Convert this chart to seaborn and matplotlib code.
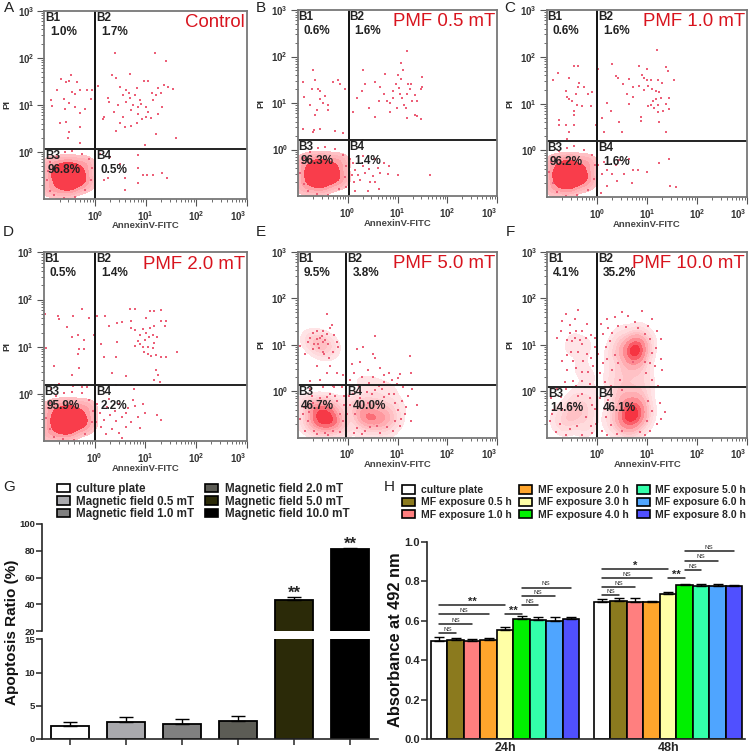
import numpy as np
import pandas as pd
import seaborn as sns
import matplotlib.pyplot as plt
from matplotlib.patches import Patch

sns.set_style("ticks")
plt.rcParams['font.family'] = ['Liberation Sans', 'DejaVu Sans']
plt.rcParams['mathtext.fontset'] = 'custom'
plt.rcParams['mathtext.bf'] = 'Liberation Sans:bold'
plt.rcParams['mathtext.rm'] = 'Liberation Sans'

W, H = 750, 755

# flow cytometry events, log10(AnnexinV), log10(PI)
a_events = [(-.87,1.1),(-.85,.97),(-.74,1.32),(-.68,1.54),(-.57,1.49),(-.51,1.5),(-.48,1.63),(-.36,1.49),(-.46,1.27),(-.39,1.24),(-.29,1.31),(-.15,1.32),(-.05,1.32),(-.07,1.13),(-.62,1.13),(-.52,1.03),(-.59,.92),(-.69,.61),(-.57,.64),(-.39,.96),(-.29,.82),(-.2,.92),(-.52,.43),(-.54,.29),(-.29,.18),(-.29,.54),
    (.39,2.1),(1.18,2.11),(1.4,1.93),(.33,1.63),(.41,1.58),(.69,1.65),(.96,1.5),(1.05,1.5),(1.24,1.35),(1.37,1.42),(1.54,1.33),(1.44,1.38),(.05,1.39),(.49,1.37),(.62,1.31),(.82,1.35),(.78,1.2),(.88,1.1),(.7,1.15),(.62,1.05),(.75,1.0),(.85,.95),(.9,1.02),(1.05,.85),(1.12,1.25),(1.15,1.1),(1.2,1.2),(1.3,1.25),(1.1,.72),(1.0,.75),(.55,.75),(.5,.62),(.6,.53),(.72,.55),(.82,.62),(.93,.7),(1.0,.95),(1.25,.8),(1.32,.95),(.25,1.15),(.27,1.05),(.15,.7),(.18,.75),(.38,.85),(.42,.45),(.55,1.2),(.68,1.25),(.72,.9),(.85,.8),(1.2,.38),(.98,.15),(1.6,.3),(.45,1.0),
    (.1,-.05),(.5,-.25),(.85,-.07),(.25,-.55),(.18,-.6),(.6,-.55),(.85,-.65),(.95,-.5),(1.03,-.48),(1.15,-.5),(1.32,-.45),(1.42,-.55),(.85,-.35),(.3,-.1),(.6,-.8),
    (-.95,-.6),(-.92,-.4),(-.88,-.82),(-.8,-.92),(-.62,-.97),(-.4,-.95),(-.2,-.8),(-.08,-.6),(-.05,-.35),(-.12,-.15),(-.25,-.05),(-.45,.02),(-.6,.0),(-.75,-.1),(-.88,-.22)]
a_core = [(-.53,-.52,6),(-.72,-.5,2),(-.34,-.52,2),(-.53,-.72,2),(-.53,-.32,2),(-.25,-.65,1),(-.8,-.3,1),(-.8,-.75,1),(-.25,-.3,1)]

b_events = [(-.9,1.45),(-.7,1.7),(-.65,1.5),(-.72,1.3),(-.6,1.3),(-.55,1.25),(-.45,1.15),(-.3,1.45),(-.2,1.5),(-.15,1.4),(-.5,1.0),(-.55,1.08),(-.88,1.12),(-.75,.95),(-.62,.85),(-.65,.75),(-.4,.85),(-.4,.95),(-.9,.45),(-.68,.42),(-.7,.38),(-.55,.45),(-.25,.4),(-.1,.35),(-.05,1.3),
    (.3,1.7),(.35,1.4),(.28,1.25),(.18,1.1),(.1,.8),(.55,1.45),(.65,1.35),(.72,1.2),(.78,1.05),(.85,1.0),(.9,1.25),(.97,1.4),(1.03,1.32),(1.05,1.2),(1.1,1.1),(1.13,.95),(1.17,.9),(1.2,1.2),(1.22,1.4),(1.25,1.3),(1.28,1.4),(1.35,1.18),(1.4,1.05),(1.47,1.3),(1.5,1.55),(1.5,1.35),(.75,1.62),(1.0,1.6),(1.12,1.7),(1.08,1.85),(1.2,2.12),(1.2,.68),(1.4,.72),(1.35,.75),(1.48,.65),(.85,.8),(.55,.7),(.42,.9),(.62,1.05),(.9,1.1),(.98,.9),(1.08,1.52),(1.3,1.05),(.3,.2),
    (.05,-.2),(.1,-.3),(.15,-.45),(.2,-.55),(.3,-.35),(.35,-.5),(.42,-.42),(.5,-.58),(.55,-.7),(.6,-.4),(.65,-.5),(.45,-.7),(.25,-.65),(.12,-.7),(.72,-.3),(.82,-.35),(.8,-.52),(.62,-.85),(.4,-.9),(.15,-.9),(1.0,-.55),(1.65,-.55),(.55,-.2),(.3,-.15),(.08,-.55),(.02,-.8),
    (-.95,-.5),(-.92,-.3),(-.88,-.75),(-.8,-.9),(-.62,-.95),(-.4,-.97),(-.18,-.85),(-.05,-.6),(-.03,-.35),(-.1,-.12),(-.25,.02),(-.45,.05),(-.6,.03),(-.75,-.05),(-.88,-.18),(-.03,-.8)]
b_core = [(-.53,-.52,6),(-.72,-.52,2),(-.32,-.52,2),(-.53,-.72,2),(-.53,-.3,2),(-.22,-.65,1),(-.8,-.3,1),(-.8,-.75,1),(-.22,-.3,1)]

c_events = [(-.78,1.65),(-.88,1.5),(-.55,1.55),(-.45,1.8),(-.38,1.8),(-.62,1.28),(-.6,1.15),(-.55,1.1),(-.42,1.2),(-.38,1.35),(-.35,1.45),(-.25,1.35),(-.18,1.2),(-.1,1.25),(-.5,1.05),(-.4,.98),(-.3,.95),(-.12,.95),(-.75,.65),(-.75,.55),(-.62,.55),(-.55,.4),(-.45,.55),(-.45,.75),(-.45,.85),(-.02,.55),(-.6,.25),
    (.02,1.75),(.3,1.85),(.38,1.6),(.52,1.42),(.42,1.55),(.6,1.2),(.72,1.35),(.65,1.52),(.85,1.8),(.9,1.62),(.95,1.55),(1.0,1.5),(1.08,1.5),(1.22,1.5),(1.3,1.45),(1.38,1.78),(1.42,1.7),(1.55,1.5),(1.0,1.75),(.85,1.38),(.95,1.3),(1.02,1.38),(1.1,1.32),(1.18,1.28),(1.25,1.25),(1.28,1.12),(1.18,1.1),(1.12,1.05),(1.08,.98),(1.02,.95),(1.15,.9),(1.22,.98),(1.32,.85),(1.38,1.0),(1.45,1.12),(1.45,.88),(1.22,.82),(1.2,2.15),(.72,1.15),(.88,.72),(.45,.6),(.28,.85),(.2,1.02),(.1,.7),(.15,.4),(.5,.4),(.88,.62),(1.38,.4),(1.25,.6),(.65,1.0),
    (.02,-.3),(.15,-.25),(.2,-.42),(.3,-.5),(.38,-.3),(.45,-.2),(.55,-.5),(.65,-.18),(.72,-.42),(.82,-.42),(1.0,-.45),(1.25,-.27),(1.45,-.18),(1.47,-.75),(1.58,-.78),(.7,-.7),(.4,-.65),(.2,-.75),(.08,-.9),(.1,-.5),
    (-.95,-.45),(-.92,-.25),(-.88,-.7),(-.8,-.88),(-.62,-.97),(-.4,-.95),(-.18,-.85),(-.05,-.6),(-.03,-.3),(-.1,-.1),(-.25,.02),(-.45,.1),(-.6,.05),(-.75,-.02),(-.88,-.15)]
c_core = [(-.55,-.52,6),(-.75,-.52,2),(-.35,-.52,2),(-.55,-.72,2),(-.55,-.3,2),(-.25,-.65,1),(-.8,-.3,1),(-.8,-.75,1),(-.25,-.3,1)]

d_events = [(-.98,1.7),(-.72,1.65),(-.7,1.58),(-.55,1.42),(-.42,1.65),(-.25,1.8),(-.1,1.6),(-.95,.98),(-.45,1.2),(-.32,1.25),(-.2,1.15),(-.3,.95),(-.33,.85),(-.2,.95),(-.8,.6),(-.7,.22),(-.45,.4),(-.42,.18),(-.3,.55),(-.25,.15),(-.15,.15),(-.02,1.25),(-.85,.1),
    (.05,1.65),(.2,1.65),(.28,1.45),(.45,1.5),(.55,1.52),(.7,1.8),(.8,1.8),(.72,1.55),(.72,1.4),(.8,1.35),(.9,1.25),(.95,1.38),(1.02,1.6),(1.1,1.75),(1.18,1.75),(1.3,1.78),(1.3,1.55),(1.4,1.55),(1.38,1.45),(1.18,1.45),(1.1,1.4),(1.02,1.3),(1.0,1.15),(1.08,1.2),(1.15,1.25),(1.22,1.2),(.85,1.12),(.8,1.02),(.9,1.05),(.95,1.0),(1.05,1.0),(1.15,.98),(1.18,1.08),(.98,.9),(1.05,.85),(1.12,.8),(1.2,.82),(1.3,.78),(1.4,.78),(1.62,.9),(.42,.78),(.18,.78),(.35,.45),(.42,.2),(.62,.38),(.72,.2),(.78,.1),(1.2,.5),(1.25,.4),(1.28,.25),(1.18,.3),(.45,1.1),(.12,1.05),
    (.05,-.2),(.1,-.4),(.18,-.55),(.25,-.28),(.3,-.45),(.4,-.35),(.42,-.58),(.48,-.22),(.55,-.48),(.62,-.4),(.65,-.3),(.72,-.6),(.8,-.25),(.85,-.48),(.9,-.72),(1.0,-.4),(1.22,-.45),(1.3,-.55),(.35,-.75),(.22,-.85),(.48,-.82),(.55,-.92),(.12,-.7),(.02,-.6),(.28,-.1),(.75,-.12),(.62,-.7),(.95,-.2),
    (-.95,-.5),(-.92,-.3),(-.88,-.75),(-.8,-.9),(-.62,-.95),(-.4,-.97),(-.18,-.85),(-.05,-.6),(-.03,-.35),(-.1,-.12),(-.25,.02),(-.45,.05),(-.6,.03),(-.75,-.05),(-.88,-.18)]
d_core = [(-.53,-.55,6),(-.72,-.55,2),(-.32,-.55,2),(-.53,-.75,2),(-.53,-.33,2),(-.22,-.65,1),(-.8,-.33,1),(-.8,-.78,1),(-.22,-.33,1)]

e_events = [(-.95,.98),(-.8,1.05),(-.75,1.15),(-.7,1.25),(-.62,1.3),(-.55,1.15),(-.5,1.05),(-.45,1.1),(-.42,1.22),(-.35,1.35),(-.32,1.42),(-.28,1.2),(-.22,1.05),(-.2,.95),(-.3,.85),(-.38,.72),(-.5,.85),(-.58,.92),(-.48,.8),(-.42,1.65),(-.7,.9),(-.85,.8),(-.62,.55),(-.35,.55),(-.42,.4),(-.22,.4),(-.1,.35),(-.55,.25),(-.75,.22),(-.3,.12),(-.62,1.12),(-.52,1.18),(-.4,1.02),(-.6,1.02),(-.68,1.02),(-.5,1.3),
    (.55,1.18),(.3,.95),(.18,.9),(.25,.62),(.5,.8),(.55,.72),(.4,.45),(.5,.3),(.65,.5),(.72,.35),(.82,.4),(.88,.25),(1.0,.28),(1.05,.38),(.98,.15),(.62,.12),(.42,.18),(.28,.3),(.12,.4),(.05,.25),(.22,.12),(.72,.2),(1.25,.75),(1.12,.1),(1.28,.4),(.08,.58),
    (.05,-.3),(.15,-.5),(.25,-.15),(.4,-.25),(.48,-.05),(.6,-.28),(.72,-.12),(.82,-.05),(.95,-.25),(1.02,-.4),(1.1,-.2),(1.15,-.5),(1.22,-.1),(1.28,-.65),(1.05,-.75),(.9,-.85),(.65,-.9),(.35,-.85),(.12,-.9),(1.4,-.3),(1.3,.05),(.55,.02),(.25,.0),
    (-.95,-.6),(-.88,-.35),(-.85,-.85),(-.72,-.1),(-.62,-.92),(-.5,.08),(-.35,-.05),(-.22,-.2),(-.08,-.1),(-.02,-.5),(-.4,-.95),(-.15,-.88),(-.75,.05),(-.28,.1),(-.12,.08),
    (-.9,-.5),(-.8,-.65),(-.78,-.45),(-.7,-.25),(-.68,-.85),(-.55,-.15),(-.45,-.9),(-.42,-.12),(-.3,-.85),(-.25,-.1),(-.1,-.65),(-.08,-.3),(-.15,-.5),(.02,-.1),(.1,-.05),(.18,-.8),(.28,-.92),(.45,-.78),(.58,-.75),(.78,-.78),(.95,-.65),(1.08,-.6),(1.18,-.35),(.92,-.05),(.68,.05),(.38,-.02)]
e_core = [(-.52,-.58,5),(-.35,-.6,4),(-.6,-.4,3),(-.38,-.35,3),(-.72,-.7,2),(-.2,-.72,2),(-.5,-.8,2),(-.12,-.4,1),(-.75,-.3,1),
    (.35,-.55,4),(.55,-.6,3),(.78,-.55,3),(.25,-.3,2),(.55,-.3,2),(.9,-.3,1),(.3,-.78,1),(.7,-.8,1),(-.58,1.02,2),(-.42,1.0,1),(-.68,1.1,.7),(-.45,.85,.5),
    (.55,.1,.6),(.3,.2,.4),(.85,.05,.4)]

f_events = [(-.7,1.5),(-.62,1.65),(-.55,1.42),(-.45,1.55),(-.38,1.75),(-.3,1.3),(-.2,1.45),(-.72,1.3),(-.8,1.15),(-.6,1.1),(-.45,1.15),(-.35,1.1),(-.12,1.2),(-.05,.95),(-.52,.85),(-.38,.85),(-.7,.65),(-.6,.45),(-.42,.5),(-.28,.65),(-.18,.42),(-.08,.55),(-.65,.2),(-.48,.22),(-.3,.22),(-.15,.15),
    (.08,1.45),(.2,1.55),(.35,1.6),(.5,1.7),(.62,1.62),(.75,1.48),(.9,1.72),(1.02,1.4),(1.1,1.55),(1.2,1.3),(1.28,1.12),(.12,1.22),(.3,1.25),(.18,.95),(.35,.78),(.12,.6),(.3,.45),(.15,.2),(.45,.25),(1.18,.92),(1.28,.7),(1.15,.55),(1.3,.45),(1.1,.25),(1.22,.12),(1.05,.1),
    (1.25,-.25),(1.35,-.45),(1.2,-.7),(1.05,-.85),(1.28,-.6),(.95,-.95),(.05,-.15),(.1,-.85),(.2,-.95),(.4,-.92),
    (-.95,-.65),(-.88,-.4),(-.82,-.88),(-.72,-.12),(-.62,-.95),(-.5,.08),(-.3,-.05),(-.15,-.15),(-.05,-.38),(-.03,-.7),(-.3,-.95),(-.1,-.9),(-.8,.05),(-.92,-.15),
    (-.9,-.5),(-.75,-.7),(-.7,-.4),(-.55,-.82),(-.55,-.25),(-.4,-.75),(-.38,-.1),(-.22,-.55),(-.12,-.75),(-.1,-.3),(-.62,.05),(-.42,.12),(-.25,.08),(-.05,.1),(-.55,1.25),(-.5,1.08),(-.42,1.3),(-.3,1.02),(-.22,1.15),(-.2,.8),(-.6,.78),(-.48,.65),(-.3,.42),(-.12,.72),(-.05,1.15),(.02,.8),(.05,.4),
    (.22,1.35),(.42,1.4),(.58,1.38),(.82,1.35),(.95,1.22),(1.05,1.12),(1.1,.82),(1.05,.6),(.98,.4),(.2,.7),(.25,1.08),(.42,.6),(.5,.02),(.28,.12),(.95,.62),(.72,.62),(.22,-.18),(.18,-.55),(.28,-.72),(.15,-.38),(1.02,-.2),(1.1,-.42),(1.0,-.65),(.5,-.85),(.85,-.88)]
f_core = [(.72,-.5,6),(.55,-.6,4),(.9,-.55,3),(.6,-.3,3),(.85,-.25,2),(.45,-.15,1.5),(.7,-.8,1.5),(.35,-.55,1.5),(.75,.0,1),(.4,.05,.8),
    (.72,.88,6),(.85,.82,4),(.55,.9,2),(.78,1.1,1.5),(.45,1.1,1),(.35,.8,1),(.6,.5,1.4),(.85,.45,1.4),(.35,.35,1),(.6,.2,1),(.95,.15,.8),(.95,.95,1),
    (-.48,-.5,1.5),(-.62,-.62,1.2),(-.3,-.45,1.2),(-.2,-.7,1),(-.45,-.2,.8),(-.78,-.55,.6),(-.15,-.2,.6),(-.5,1.02,.6),(-.25,.95,.5),(-.35,.5,.4),(-.15,.3,.4)]

panel_letters = ['A', 'B', 'C', 'D', 'E', 'F']
panel_titles = ['Control', 'PMF 0.5 mT', 'PMF 1.0 mT', 'PMF 2.0 mT', 'PMF 5.0 mT', 'PMF 10.0 mT']
panel_events = [a_events, b_events, c_events, d_events, e_events, f_events]
panel_core = [a_core, b_core, c_core, d_core, e_core, f_core]
panel_pct = [['1.0%', '1.7%', '96.8%', '0.5%'], ['0.6%', '1.6%', '96.3%', '1.4%'],
             ['0.6%', '1.6%', '96.2%', '1.6%'], ['0.5%', '1.4%', '95.9%', '2.2%'],
             ['9.5%', '3.8%', '46.7%', '40.0%'], ['4.1%', '35.2%', '14.6%', '46.1%']]
gate_x = [1.0, 1.05, 1.0, 1.02, 0.95, 1.0]
gate_y = [1.18, 1.58, 1.58, 1.55, 1.36, 1.21]

# bar chart G
g_groups = ['culture plate', 'Magnetic field 0.5 mT', 'Magnetic field 1.0 mT',
            'Magnetic field 2.0 mT', 'Magnetic field 5.0 mT', 'Magnetic field 10.0 mT']
g_ratio = [2.0, 2.6, 2.3, 2.7, 43.0, 81.0]
g_err = [0.5, 0.7, 0.7, 0.8, 2.5, 1.0]
g_colors = ['#ffffff', '#a9a9ad', '#808080', '#5c5c55', '#2b2a08', '#000000']

# bar chart H
h_times = ['24h', '48h']
h_groups = ['culture plate', 'MF exposure 0.5 h', 'MF exposure 1.0 h', 'MF exposure 2.0 h',
            'MF exposure 3.0 h', 'MF exposure 4.0 h', 'MF exposure 5.0 h', 'MF exposure 6.0 h',
            'MF exposure 8.0 h']
h_24 = [.50, .505, .50, .505, .555, .61, .605, .60, .61]
h_48 = [.695, .70, .695, .695, .735, .78, .775, .775, .777]
h_24_err = [.018, .01, .01, .01, .012, .013, .014, .018, .01]
h_48_err = [.014, .014, .02, .005, .012, .008, .01, .014, .005]
h_colors = ['#ffffff', '#8b7a1e', '#ff7f7f', '#ffa52c', '#ffffa6', '#00f000', '#33ffaa', '#4fa5ff', '#5050ff']
# group, first bar, last bar, height, label
h_brackets = [(0,0,1,.54,'NS'),(0,0,2,.582,'NS'),(0,0,3,.632,'NS'),(0,0,4,.68,'**'),(0,4,5,.634,'**'),
              (0,5,6,.678,'NS'),(0,5,7,.725,'NS'),(0,5,8,.769,'NS'),
              (1,0,1,.732,'NS'),(1,0,2,.772,'NS'),(1,0,3,.818,'NS'),(1,0,4,.862,'*'),(1,4,5,.815,'**'),
              (1,5,6,.857,'NS'),(1,5,7,.906,'NS'),(1,5,8,.954,'NS')]

fig = plt.figure(figsize=(7.5, 7.55), dpi=100)


def px_axes(l, t, r, b):
    return fig.add_axes([l / W, 1 - b / H, (r - l) / W, (b - t) / H])


def px_text(x, y, s, **kw):
    kw.setdefault('va', 'center')
    return fig.text(x / W, 1 - y / H, s, **kw)


# left, top, right, bottom of each dot plot in pixels
boxes = [(44.3, 10.7, 247, 199), (297.7, 10, 497.3, 196), (546.7, 10, 747, 197.3),
         (43.7, 252.3, 247, 441.3), (297.7, 251.7, 497.3, 437.7), (547.3, 251.7, 747, 437.7)]
blob_reds = sns.blend_palette(['#ffc4c8', '#ff7078', '#f83040', '#f00818'], as_cmap=True)
soft_reds = sns.blend_palette(['#ffe8ea', '#ff9aa0', '#f42030'], as_cmap=True)
blob_levels = [.015, .05, .12, .25, 1]
soft_levels = [.04, .12, .22, .34, .48, .62, .78, .9, 1]
dec_labels = [r'$\mathbf{10^{%d}}$' % i for i in range(4)]

for i, box in enumerate(boxes):
    ax = px_axes(*box)
    ev = np.array(panel_events[i])
    core = np.array(panel_core[i])
    ax.set_xscale('log')
    ax.set_yscale('log')
    if i < 4:
        sns.kdeplot(x=10 ** core[:, 0], y=10 ** core[:, 1], weights=core[:, 2], fill=True, cmap=blob_reds,
                    levels=blob_levels, bw_adjust=1.0, ax=ax)
    else:
        sns.kdeplot(x=10 ** core[:, 0], y=10 ** core[:, 1], weights=core[:, 2], fill=True, cmap=soft_reds,
                    levels=soft_levels, bw_adjust=0.5, ax=ax)
    sns.scatterplot(x=10 ** ev[:, 0], y=10 ** ev[:, 1], s=1.3, marker='s', color='#ec6078',
                    linewidth=0, ax=ax)
    ax.set_xlim(0.1, 1000)
    ax.set_ylim(0.1, 1000)
    ax.axvline(gate_x[i], color='#111111', lw=1.4)
    ax.axhline(gate_y[i], color='#222222', lw=1.4)
    for s in ax.spines.values():
        s.set_color('#777777')
        s.set_linewidth(1.3)
    ax.set_xticks([1, 10, 100, 1000], dec_labels)
    ax.set_yticks([1, 10, 100, 1000], dec_labels)
    ax.tick_params(which='major', length=5, width=0.8, color='#555555', labelsize=7, pad=2, labelcolor='#333333')
    ax.tick_params(which='minor', length=2.5, width=0.6, color='#555555')
    ax.get_xticklabels()[-1].set_ha('right')
    ax.set_xlabel('')
    ax.set_ylabel('')
    l, t, r, b = box
    gx = l + (r - l) * (1 + np.log10(gate_x[i])) / 4
    gy = b - (b - t) * (1 + np.log10(gate_y[i])) / 4
    px_text(l + 1, t + 7, 'B1', fontsize=8.5, fontweight='bold', color='#222222')
    px_text(gx + 1, t + 7, 'B2', fontsize=8.5, fontweight='bold', color='#222222')
    px_text(l + 1, gy + 7, 'B3', fontsize=8.5, fontweight='bold', color='#222222')
    px_text(gx + 1, gy + 7, 'B4', fontsize=8.5, fontweight='bold', color='#222222')
    px_text(l + 6, t + 21, panel_pct[i][0], fontsize=8.5, fontweight='bold', color='#222222')
    px_text(gx + 6, t + 21, panel_pct[i][1], fontsize=8.5, fontweight='bold', color='#222222')
    px_text(l + 3, gy + 21, panel_pct[i][2], fontsize=8.5, fontweight='bold', color='#222222')
    px_text(gx + 6, gy + 21, panel_pct[i][3], fontsize=8.5, fontweight='bold', color='#222222')
    px_text(r - 2, t + 12, panel_titles[i], fontsize=13.4, color='#d8141e', ha='right')
    px_text(l + (r - l) * 0.5, b + 27, 'AnnexinV-FITC', fontsize=6.8, fontweight='bold', color='#444444', ha='center')
    px_text(l - 37, (t + b) / 2, 'PI', fontsize=6.8, fontweight='bold', color='#333333', rotation=90, ha='center')
    px_text(l - 35 if i % 3 == 0 else l - 37, 8 if i < 3 else 232, panel_letters[i], fontsize=11, color='#222222', ha='center')

# G: broken y axis, same bars on both parts
g_df = pd.DataFrame({'group': g_groups, 'ratio': g_ratio})
ax_up = px_axes(42, 523.7, 378, 631.3)
ax_lo = px_axes(42, 639.3, 378, 739)
for ax in (ax_up, ax_lo):
    sns.barplot(data=g_df, x='group', y='ratio', hue='group', palette=g_colors, saturation=1, width=0.67,
                edgecolor='black', linewidth=1.3, legend=False, ax=ax)
    ax.errorbar(range(6), g_ratio, yerr=[np.zeros(6), g_err], fmt='none', ecolor='black',
                elinewidth=1.0, capsize=5, capthick=1.0)
    ax.set_xlim(-0.5, 5.5)
    ax.set_xlabel('')
    ax.set_ylabel('')
    sns.despine(ax=ax)
    ax.spines['left'].set_linewidth(1.2)
    ax.tick_params(axis='y', labelsize=6.8, length=4, width=1.1, pad=1)
ax_up.set_ylim(20, 100)
ax_up.set_yticks([20, 40, 60, 80, 100])
ax_lo.set_ylim(0, 15)
ax_lo.set_yticks([0, 5, 10, 15])
ax_up.tick_params(axis='x', bottom=False, labelbottom=False)
ax_up.spines['bottom'].set_visible(False)
ax_lo.tick_params(axis='x', labelbottom=False, length=4, width=1.1)
ax_lo.spines['bottom'].set_linewidth(1.2)
for lab in ax_up.get_yticklabels() + ax_lo.get_yticklabels():
    lab.set_fontweight('bold')
for j in (4, 5):
    ax_up.text(j, g_ratio[j] + g_err[j] + 3, '**', ha='center', va='center', fontsize=12, fontweight='bold')
px_text(12, 632, 'Apoptosis Ratio (%)', fontsize=11, fontweight='bold', rotation=90, ha='center', color='#111111')
px_text(9, 487, 'G', fontsize=11, color='#222222', ha='center')
fig.legend(handles=[Patch(facecolor=c, edgecolor='black', lw=1.2, label=n) for c, n in zip(g_colors, g_groups)],
           ncols=2, loc='upper left', bbox_to_anchor=(57 / W, 1 - 483 / H), frameon=False,
           prop={'weight': 'bold', 'size': 8.4}, handlelength=1.1, handleheight=0.75, labelspacing=0.05,
           handletextpad=0.55, columnspacing=0.95, borderpad=0, borderaxespad=0)

# H
h_df = pd.DataFrame({'time': np.repeat(h_times, 9), 'exposure': h_groups * 2, 'abs': h_24 + h_48})
ax_h = px_axes(427, 542, 745, 739)
sns.barplot(data=h_df, x='time', y='abs', hue='exposure', palette=h_colors, saturation=1, width=0.91,
            edgecolor='black', linewidth=1.2, legend=False, ax=ax_h)
bar_x = []
for k, cont in enumerate(list(ax_h.containers)):
    xs = [p.get_x() + p.get_width() / 2 for p in cont.patches]
    bar_x.append(xs)
    ax_h.errorbar(xs, [h_24[k], h_48[k]], yerr=[[0, 0], [h_24_err[k], h_48_err[k]]], fmt='none',
                  ecolor='black', elinewidth=1.0, capsize=3.5, capthick=1.0)
for grp, a, b, yy, lab in h_brackets:
    ax_h.plot([bar_x[a][grp], bar_x[b][grp]], [yy, yy], color='#222222', lw=1.1)
    mid = (bar_x[a][grp] + bar_x[b][grp]) / 2
    if lab == 'NS':
        ax_h.text(mid, yy + 0.018, lab, ha='center', va='center', fontsize=4.5)
    else:
        ax_h.text(mid, yy + 0.016, lab, ha='center', va='center', fontsize=8, fontweight='bold')
ax_h.set_xlim(-0.479, 1.472)
ax_h.set_ylim(0, 1.0)
ax_h.set_yticks([0, .2, .4, .6, .8, 1.0])
ax_h.set_xlabel('')
ax_h.set_ylabel('')
sns.despine(ax=ax_h)
ax_h.spines['left'].set_linewidth(1.2)
ax_h.spines['bottom'].set_linewidth(1.2)
ax_h.tick_params(axis='y', labelsize=8, length=4, width=1.1, pad=1)
ax_h.tick_params(axis='x', length=0, labelsize=9, pad=2)
for lab in ax_h.get_yticklabels() + ax_h.get_xticklabels():
    lab.set_fontweight('bold')
px_text(396, 640, 'Absorbance at 492 nm', fontsize=11.8, fontweight='bold', rotation=90, ha='center', color='#111111')
px_text(389, 487, 'H', fontsize=11, color='#222222', ha='center')
fig.legend(handles=[Patch(facecolor=c, edgecolor='black', lw=1.2, label=n) for c, n in zip(h_colors, h_groups)],
           ncols=3, loc='upper left', bbox_to_anchor=(402 / W, 1 - 485 / H), frameon=False,
           prop={'weight': 'bold', 'size': 7.5}, handlelength=1.25, handleheight=0.85, labelspacing=0.22,
           handletextpad=0.55, columnspacing=0.75, borderpad=0, borderaxespad=0)

fig.savefig('out.png', dpi=100)
